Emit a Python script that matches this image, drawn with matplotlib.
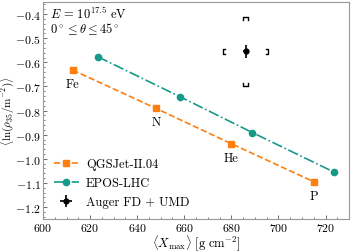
import matplotlib
matplotlib.use("Agg")
import matplotlib.pyplot as plt

plt.rcParams["font.family"] = "serif"
plt.rcParams["font.serif"] = ["cmr10", "DejaVu Serif"]
plt.rcParams["mathtext.fontset"] = "cm"
plt.rcParams["axes.formatter.use_mathtext"] = True
plt.rcParams["axes.unicode_minus"] = True

# Simulated primaries (Fe, N, He, P)
primaries = ["Fe", "N", "He", "P"]
qgs_xmax = [612.6, 648.0, 679.9, 715.2]
qgs_lnrho = [-0.632, -0.791, -0.937, -1.096]
epos_xmax = [623.3, 658.3, 688.9, 723.4]
epos_lnrho = [-0.577, -0.743, -0.891, -1.054]

# Auger measurement with stat and sys uncertainties
auger_xmax = 686.1
auger_lnrho = -0.555
auger_xstat = 1.2
auger_ystat = 0.027
auger_xsys = 9.6
auger_ysys = 0.142

orange = "#ff7f0e"
teal = "#17998a"

fig = plt.figure(figsize=(3.54, 2.53), dpi=100)
ax = fig.add_axes([0.1215, 0.130, 0.8645, 0.858])

ax.plot(qgs_xmax, qgs_lnrho, ls="--", color=orange, marker="s", ms=4.5,
        lw=1.2, label="QGSJet-II.04")
ax.plot(epos_xmax, epos_lnrho, ls="-.", color=teal, marker="o", ms=4.5,
        lw=1.2, label="EPOS-LHC")
ax.errorbar(auger_xmax, auger_lnrho, xerr=auger_xstat, yerr=auger_ystat,
            fmt="o", color="black", ms=3.5, elinewidth=1.2, capsize=0,
            label="Auger FD + UMD")

# systematic brackets
bw = 0.010
bx = 1.0
lw = 1.0
for s in (-1, 1):
    xs = auger_xmax + s * auger_xsys
    ax.plot([xs - s * bx, xs, xs, xs - s * bx],
            [auger_lnrho - bw, auger_lnrho - bw, auger_lnrho + bw, auger_lnrho + bw],
            color="black", lw=lw)
    ys = auger_lnrho + s * auger_ysys
    ax.plot([auger_xmax - bx, auger_xmax - bx, auger_xmax + bx, auger_xmax + bx],
            [ys - s * 0.010, ys, ys, ys - s * 0.010],
            color="black", lw=lw)

# primary labels below the QGSJet points
for name, x, y in zip(primaries, qgs_xmax, qgs_lnrho):
    ax.text(x, y - 0.058, name, ha="center", va="center", fontsize=9)

ax.text(0.022, 0.985, r"$E\,=\,10^{17.5}\ \mathrm{eV}$", transform=ax.transAxes,
        ha="left", va="top", fontsize=9)
ax.text(0.022, 0.915, r"$0^\circ \leq \theta \leq 45^\circ$", transform=ax.transAxes,
        ha="left", va="top", fontsize=9)

ax.set_xlim(600, 730)
ax.set_ylim(-1.25, -0.35)
ax.set_xticks([600, 620, 640, 660, 680, 700, 720])
ax.set_yticks([-1.2, -1.1, -1.0, -0.9, -0.8, -0.7, -0.6, -0.5, -0.4])
ax.minorticks_on()
ax.tick_params(which="both", direction="in", labelsize=8.5, colors="#555555",
               labelcolor="black", pad=1.5)
ax.tick_params(which="major", length=3, width=0.6)
ax.tick_params(which="minor", length=1.5, width=0.5)
for sp in ax.spines.values():
    sp.set_color("#999999")
    sp.set_linewidth(0.8)

ax.set_xlabel(r"$\langle X_{\mathrm{max}}\rangle\ [\mathrm{g\ cm^{-2}}]$", fontsize=9, labelpad=0)
ax.set_ylabel(r"$\langle \ln(\rho_{35}/\mathrm{m^{-2}})\rangle$", fontsize=8)
ax.yaxis.set_label_coords(-0.087, 0.5)

ax.legend(loc="lower left", fontsize=9, frameon=False, handlelength=2.0,
          borderaxespad=0.45, labelspacing=0.55, handletextpad=0.6)

fig.savefig("out.png", dpi=100)
